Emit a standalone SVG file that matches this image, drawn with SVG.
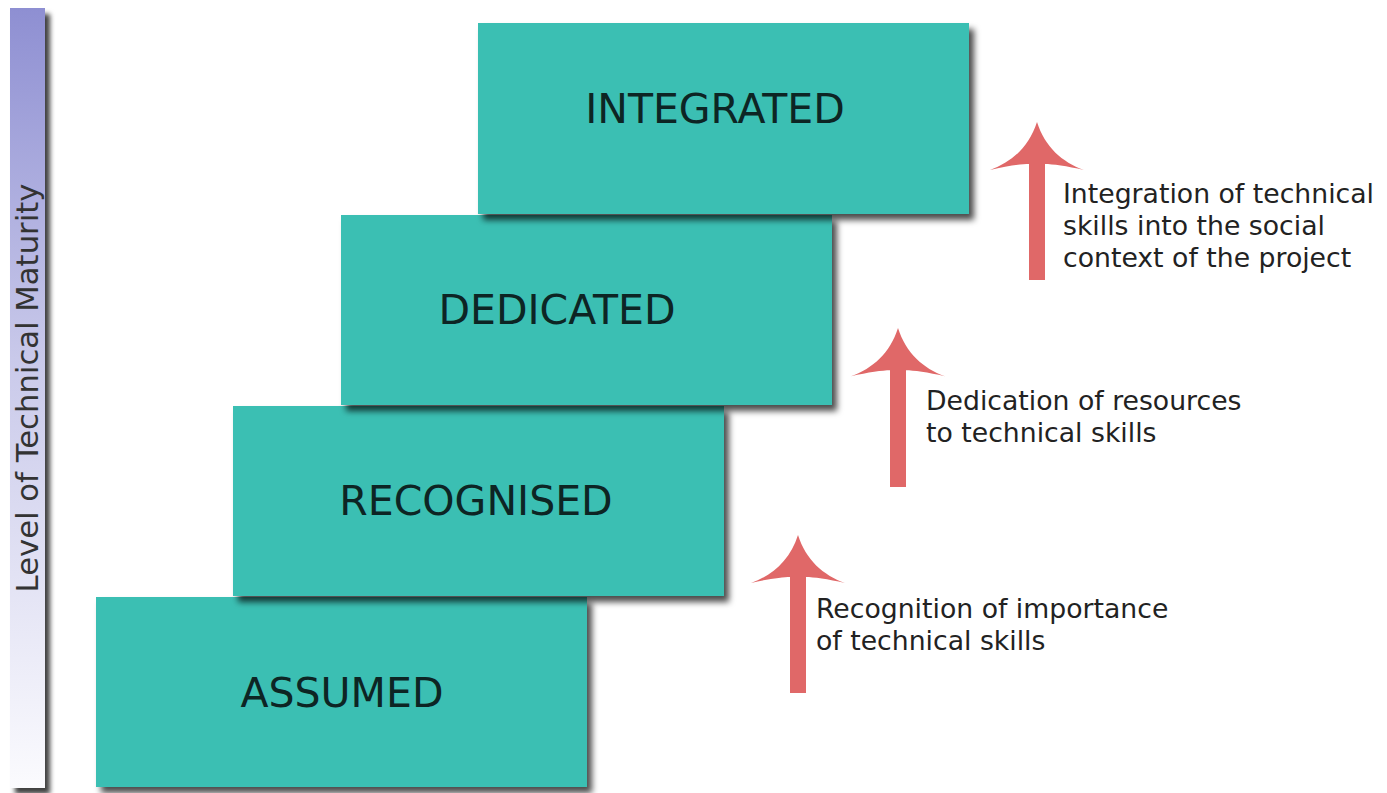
<svg xmlns="http://www.w3.org/2000/svg" width="1387" height="793" viewBox="0 0 1387 793">
  <style>
    .step { fill: #3bbfb3; filter: url(#shadow); }
    .step-label { font-family: "DejaVu Sans", Verdana, sans-serif; font-size: 41px; fill: #0d2524; }
    .note { font-family: "DejaVu Sans", Verdana, sans-serif; font-size: 26.7px; fill: #222; }
    .axis-label { font-family: "DejaVu Sans", Verdana, sans-serif; font-size: 30.7px; fill: #333; }
    .arrow { fill: #e06868; }
  </style>
  <defs>
    <filter id="shadow" x="-5%" y="-5%" width="115%" height="120%">
      <feDropShadow dx="5" dy="6" stdDeviation="3" flood-color="#000" flood-opacity="0.7"/>
    </filter>
    <linearGradient id="axisFill" x1="0" y1="0" x2="0" y2="1">
      <stop offset="0" stop-color="#8e8fd2"/>
      <stop offset="0.45" stop-color="#c9c9ea"/>
      <stop offset="1" stop-color="#fbfbfe"/>
    </linearGradient>
    <filter id="axisShadow" x="-30%" y="-5%" width="160%" height="110%">
      <feDropShadow dx="5" dy="6" stdDeviation="2.5" flood-color="#000" flood-opacity="0.75"/>
    </filter>
    <!-- swept arrow pointing up, tip at origin -->
    <path id="upArrow" d="M0,0 C-8,25 -25,40 -47,48 C-30,44 -15,42 -8,42 V158 H8 V42 C15,42 30,44 47,48 C25,40 8,25 0,0 Z"/>
  </defs>

  <rect width="1387" height="793" fill="#fff"/>

  <!-- vertical maturity axis -->
  <g id="axis">
    <rect x="10" y="8" width="35" height="780" fill="url(#axisFill)" filter="url(#axisShadow)"/>
    <text class="axis-label" x="38" y="388" text-anchor="middle" transform="rotate(-90 38 388)">Level of Technical Maturity</text>
  </g>

  <!-- staircase, lowest step first so each higher step casts onto the one below -->
  <g id="assumed">
    <rect class="step" x="96" y="597" width="491" height="190"/>
    <text class="step-label" x="342" y="707" text-anchor="middle">ASSUMED</text>
  </g>
  <g id="recognised">
    <rect class="step" x="233" y="406" width="491" height="190"/>
    <text class="step-label" x="476" y="515" text-anchor="middle">RECOGNISED</text>
  </g>
  <g id="dedicated">
    <rect class="step" x="341" y="215" width="491" height="190"/>
    <text class="step-label" x="557" y="324" text-anchor="middle">DEDICATED</text>
  </g>
  <g id="integrated">
    <rect class="step" x="478" y="23" width="491" height="191"/>
    <text class="step-label" x="715" y="123" text-anchor="middle">INTEGRATED</text>
  </g>

  <!-- transition arrows -->
  <g id="connectors">
    <use href="#upArrow" class="arrow" transform="translate(798 535)"/>
    <use href="#upArrow" class="arrow" transform="translate(898 328) scale(1 1.006)"/>
    <use href="#upArrow" class="arrow" transform="translate(1037 122)"/>
  </g>

  <!-- transition descriptions -->
  <g id="note-recognition">
    <text class="note" x="816" y="618">Recognition of importance</text>
    <text class="note" x="816" y="650">of technical skills</text>
  </g>
  <g id="note-dedication">
    <text class="note" x="926" y="410">Dedication of resources</text>
    <text class="note" x="926" y="442">to technical skills</text>
  </g>
  <g id="note-integration">
    <text class="note" x="1063" y="203">Integration of technical</text>
    <text class="note" x="1063" y="235">skills into the social</text>
    <text class="note" x="1063" y="267">context of the project</text>
  </g>
</svg>
